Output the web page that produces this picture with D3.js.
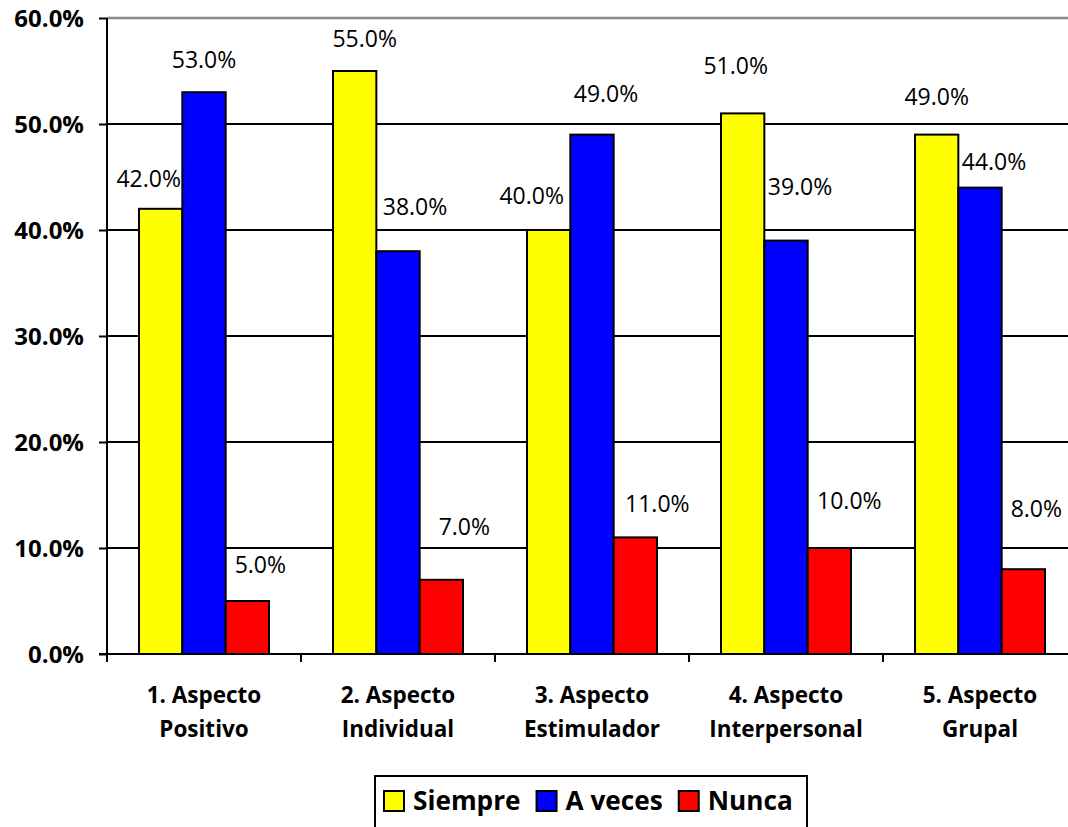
<!DOCTYPE html>
<html><head><meta charset="utf-8">
<script src="https://cdn.jsdelivr.net/npm/d3@7"></script>
<style>
html,body{margin:0;padding:0;background:#fff;}
svg{display:block;}
</style>
</head><body>
<svg id="chart" width="1068" height="827"></svg>
<script>
// ---- data ----
const categories = [["1. Aspecto","Positivo"],["2. Aspecto","Individual"],["3. Aspecto","Estimulador"],["4. Aspecto","Interpersonal"],["5. Aspecto","Grupal"]];
const seriesNames = ["Siempre","A veces","Nunca"];
const siempre = [42, 55, 40, 51, 49];
const aVeces  = [53, 38, 49, 39, 44];
const nunca   = [5, 7, 11, 10, 8];
const yTicks  = [0, 10, 20, 30, 40, 50, 60];

// ---- layout / style (not data) ----
const colors = ["#FFFF00","#0000FF","#FF0000"];
// label nudges: [dx, gap above bar top] per series per category
const labelNudge = [
  [[-12,22],[10,24],[-17,26],[-7,39],[0,30]],
  [[0,24],[17,36],[14,33],[14,46],[14,18]],
  [[13,28],[23,45],[22,25],[20,39],[13,52]]
];
const svg = d3.select("#chart");
const pLeft = 107, pRight = 1077, pTop = 18, pBottom = 654;
const seriesVals = [siempre, aVeces, nunca];

const x0 = d3.scaleBand().domain(d3.range(categories.length)).range([pLeft, pRight]).paddingInner(0).paddingOuter(0);
const x1 = d3.scaleBand().domain(d3.range(seriesNames.length)).range([32, x0.bandwidth()-32]).padding(0);
const y = d3.scaleLinear().domain([0, 60]).range([pBottom, pTop]);

// gridlines
svg.append("g").selectAll("line").data(yTicks.filter(t => t > 0)).join("line")
  .attr("x1", pLeft).attr("x2", 1068)
  .attr("y1", d => y(d)).attr("y2", d => y(d))
  .attr("stroke", d => d === 60 ? "#8c8c8c" : "#000").attr("stroke-width", d => d === 60 ? 2.5 : 2);

// bars
const groups = svg.append("g").selectAll("g").data(categories).join("g")
  .attr("transform", (d, i) => `translate(${x0(i)},0)`);
groups.selectAll("rect").data((d, i) => seriesVals.map((s, k) => ({k, i, v: s[i]}))).join("rect")
  .attr("x", d => x1(d.k)).attr("width", x1.bandwidth())
  .attr("y", d => y(d.v)).attr("height", d => y(0) - y(d.v))
  .attr("fill", d => colors[d.k]).attr("stroke", "#000").attr("stroke-width", 2);

// value labels
groups.selectAll("text.val").data((d, i) => seriesVals.map((s, k) => ({k, i, v: s[i]}))).join("text")
  .attr("class", "val")
  .attr("x", d => x1(d.k) + x1.bandwidth()/2 + labelNudge[d.k][d.i][0])
  .attr("y", d => y(d.v) - labelNudge[d.k][d.i][1])
  .attr("text-anchor", "middle")
  .attr("font-family", "'Open Sans', sans-serif").attr("font-size", 23).attr("fill", "#000")
  .text(d => d3.format(".1f")(d.v) + "%");

// y axis
const yAxis = svg.append("g").attr("transform", `translate(${pLeft},0)`)
  .call(d3.axisLeft(y).tickValues(yTicks).tickSize(8).tickPadding(15).tickFormat(d => d3.format(".1f")(d) + "%"));
yAxis.select(".domain").attr("stroke", "#000").attr("stroke-width", 2).attr("d", `M0,${pTop}V${pBottom+8}`);
yAxis.selectAll(".tick line").attr("stroke", "#000").attr("stroke-width", 2);
yAxis.selectAll(".tick text").attr("font-family", "'Open Sans', sans-serif").attr("font-weight", "bold")
  .attr("font-size", 24).attr("fill", "#000").attr("dy", "0.36em");

// x axis
const xAxis = svg.append("g").attr("transform", `translate(0,${pBottom})`);
xAxis.append("line").attr("x1", pLeft - 8).attr("x2", 1068).attr("y1", 0).attr("y2", 0).attr("stroke", "#000").attr("stroke-width", 2);
xAxis.selectAll("line.tk").data(d3.range(categories.length + 1)).join("line").attr("class", "tk")
  .attr("x1", i => pLeft + i * x0.bandwidth()).attr("x2", i => pLeft + i * x0.bandwidth())
  .attr("y1", 0).attr("y2", 8).attr("stroke", "#000").attr("stroke-width", 2);
const catText = xAxis.selectAll("text").data(categories).join("text")
  .attr("text-anchor", "middle")
  .attr("font-family", "'Open Sans', sans-serif").attr("font-weight", "bold").attr("font-size", 22.5).attr("fill", "#000");
catText.selectAll("tspan").data((d, i) => d.map(t => ({t, i}))).join("tspan")
  .attr("x", d => x0(d.i) + x0.bandwidth()/2)
  .attr("y", (d, j) => 49 + j * 34)
  .text(d => d.t);

// legend
const leg = svg.append("g");
leg.append("rect").attr("x", 375).attr("y", 776).attr("width", 432).attr("height", 70)
  .attr("fill", "#fff").attr("stroke", "#000").attr("stroke-width", 2);
let lx = 384;
seriesNames.forEach((name, k) => {
  leg.append("rect").attr("x", lx).attr("y", 791).attr("width", 20).attr("height", 20)
    .attr("fill", colors[k]).attr("stroke", "#000").attr("stroke-width", 2);
  const t = leg.append("text").attr("x", lx + 29).attr("y", 810)
    .attr("font-family", "'Open Sans', sans-serif").attr("font-weight", "bold").attr("font-size", 26.2).attr("fill", "#000")
    .text(name);
  lx += 29 + t.node().getComputedTextLength() + 16;
});
</script>
</body></html>
